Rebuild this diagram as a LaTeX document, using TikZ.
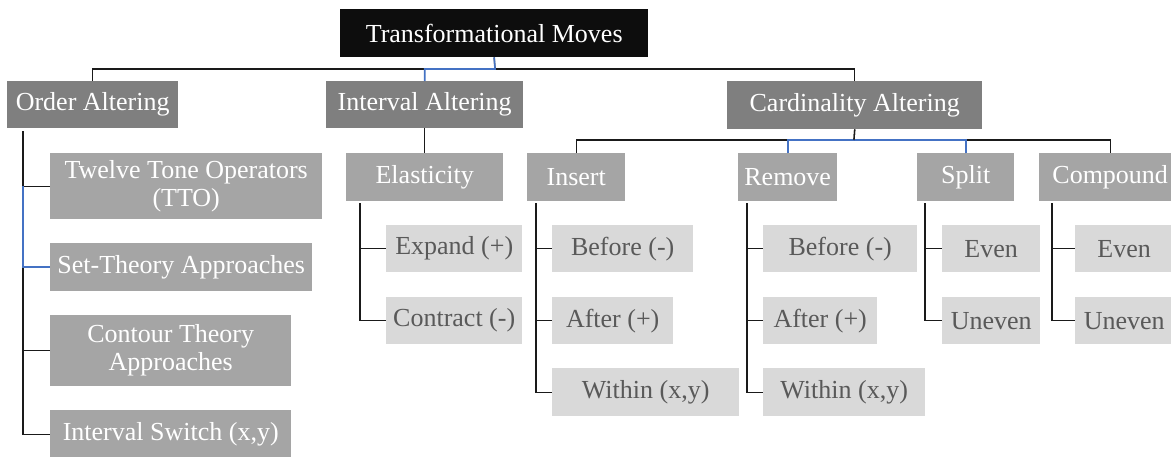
\documentclass[tikz,border=0pt]{standalone}
\usepackage{fontspec}
\setmainfont{Liberation Serif}
\usetikzlibrary{calc}
\definecolor{topfill}{HTML}{0D0D0D}
\definecolor{lvone}{HTML}{7F7F7F}
\definecolor{lvtwo}{HTML}{A5A5A5}
\definecolor{lvthree}{HTML}{D9D9D9}
\definecolor{lvthreetext}{HTML}{595959}
\definecolor{selblue}{HTML}{4472C4}
\definecolor{linedark}{HTML}{1A1A1A}
\tikzset{
  box/.style={anchor=north west, inner sep=0pt, align=center, text=white,
    font=\fontsize{26}{28}\selectfont},
  topbox/.style={box, fill=topfill},
  onebox/.style={box, fill=lvone},
  twobox/.style={box, fill=lvtwo},
  threebox/.style={box, fill=lvthree, text=lvthreetext},
  conn/.style={draw=linedark, line width=1.3pt},
  selconn/.style={draw=selblue, line width=1.6pt},
}
\begin{document}
\begin{tikzpicture}[x=1pt,y=-1pt]
\useasboundingbox (0,0) rectangle (1171,456);
\fill[white] (0,0) rectangle (1171,456);
% top
\node[topbox, minimum width=308pt, minimum height=48pt] (top) at (340,9) {Transformational Moves};
% level 1
\node[onebox, minimum width=171pt, minimum height=47pt] (ord) at (7,81) {Order Altering};
\node[onebox, minimum width=197pt, minimum height=47pt] (int) at (326,81) {Interval Altering};
\node[onebox, minimum width=255pt, minimum height=48pt] (car) at (727,81) {Cardinality Altering};
% order children
\node[twobox, minimum width=272pt, minimum height=66pt] (tto) at (50,153) {Twelve Tone Operators\\(TTO)};
\node[twobox, minimum width=262pt, minimum height=48pt] (set) at (50,243) {Set-Theory Approaches};
\node[twobox, minimum width=241pt, minimum height=71pt] (cnt) at (50,315) {Contour Theory\\Approaches};
\node[twobox, minimum width=241pt, minimum height=48pt] (isw) at (50,410) {Interval Switch (x,y)};
% level 2
\node[twobox, minimum width=157pt, minimum height=48pt] (ela) at (346,153) {Elasticity};
\node[twobox, minimum width=98pt, minimum height=48pt] (ins) at (527,153) {Insert};
\node[twobox, minimum width=99pt, minimum height=48pt] (rem) at (738,153) {Remove};
\node[twobox, minimum width=97pt, minimum height=48pt] (spl) at (917,153) {Split};
\node[twobox, minimum width=142pt, minimum height=48pt] (cmp) at (1039,153) {Compound};
% level 3
\node[threebox, minimum width=136pt, minimum height=47pt] (exp) at (386,225) {Expand (+)};
\node[threebox, minimum width=136pt, minimum height=47pt] (con) at (386,297) {Contract (-)};
\node[threebox, minimum width=141pt, minimum height=47pt] (ib) at (552,225) {Before (-)};
\node[threebox, minimum width=121pt, minimum height=47pt] (ia) at (552,297) {After (+)};
\node[threebox, minimum width=187pt, minimum height=48pt] (iw) at (552,368) {Within (x,y)};
\node[threebox, minimum width=154pt, minimum height=47pt] (rb) at (763,225) {Before (-)};
\node[threebox, minimum width=114pt, minimum height=47pt] (ra) at (763,297) {After (+)};
\node[threebox, minimum width=162pt, minimum height=48pt] (rw) at (763,368) {Within (x,y)};
\node[threebox, minimum width=98pt, minimum height=47pt] (se) at (942,225) {Even};
\node[threebox, minimum width=98pt, minimum height=47pt] (su) at (942,297) {Uneven};
\node[threebox, minimum width=98pt, minimum height=47pt] (ce) at (1075,225) {Even};
\node[threebox, minimum width=98pt, minimum height=47pt] (cu) at (1075,297) {Uneven};
% hubs / trunks
\coordinate (hub) at (495,69);
\coordinate (chub) at (854,140);
\coordinate (ordT) at (23,131);
\coordinate (elaT) at (360,203);
\coordinate (insT) at (536,203);
\coordinate (remT) at (747,203);
\coordinate (splT) at (925,203);
\coordinate (cmpT) at (1052,203);
% top connectors
\draw[conn] (ord.north) -- (ord.north |- hub) -- (car.north |- hub) -- (car.north);
\draw[conn] (top.south) -- (hub);
\draw[conn] (int.north) -- (int.north |- hub);
\draw[selconn] (top.south) -- (hub) -| (int.north);
% order altering
\draw[conn] (ordT) |- (tto.west);
\draw[conn] (ordT) |- (set.west);
\draw[conn] (ordT) |- (cnt.west);
\draw[conn] (ordT) |- (isw.west);
\draw[selconn] (ordT |- tto.west) |- (set.west);
% interval altering
\draw[conn] (int.south) -- (ela.north);
\draw[conn] (elaT) |- (exp.west);
\draw[conn] (elaT) |- (con.west);
% cardinality
\draw[conn] (car.south) -- (chub);
\draw[conn] (ins.north) -- (ins.north |- chub) -- (cmp.north |- chub) -- (cmp.north);
\draw[conn] (rem.north) -- (rem.north |- chub);
\draw[conn] (spl.north) -- (spl.north |- chub);
\draw[selconn] (rem.north) |- (chub) -| (spl.north);
\draw[conn] (car.south) -- (chub);
% insert
\draw[conn] (insT) |- (ib.west);
\draw[conn] (insT) |- (ia.west);
\draw[conn] (insT) |- (iw.west);
% remove
\draw[conn] (remT) |- (rb.west);
\draw[conn] (remT) |- (ra.west);
\draw[conn] (remT) |- (rw.west);
% split
\draw[conn] (splT) |- (se.west);
\draw[conn] (splT) |- (su.west);
% compound
\draw[conn] (cmpT) |- (ce.west);
\draw[conn] (cmpT) |- (cu.west);
\end{tikzpicture}
\end{document}
